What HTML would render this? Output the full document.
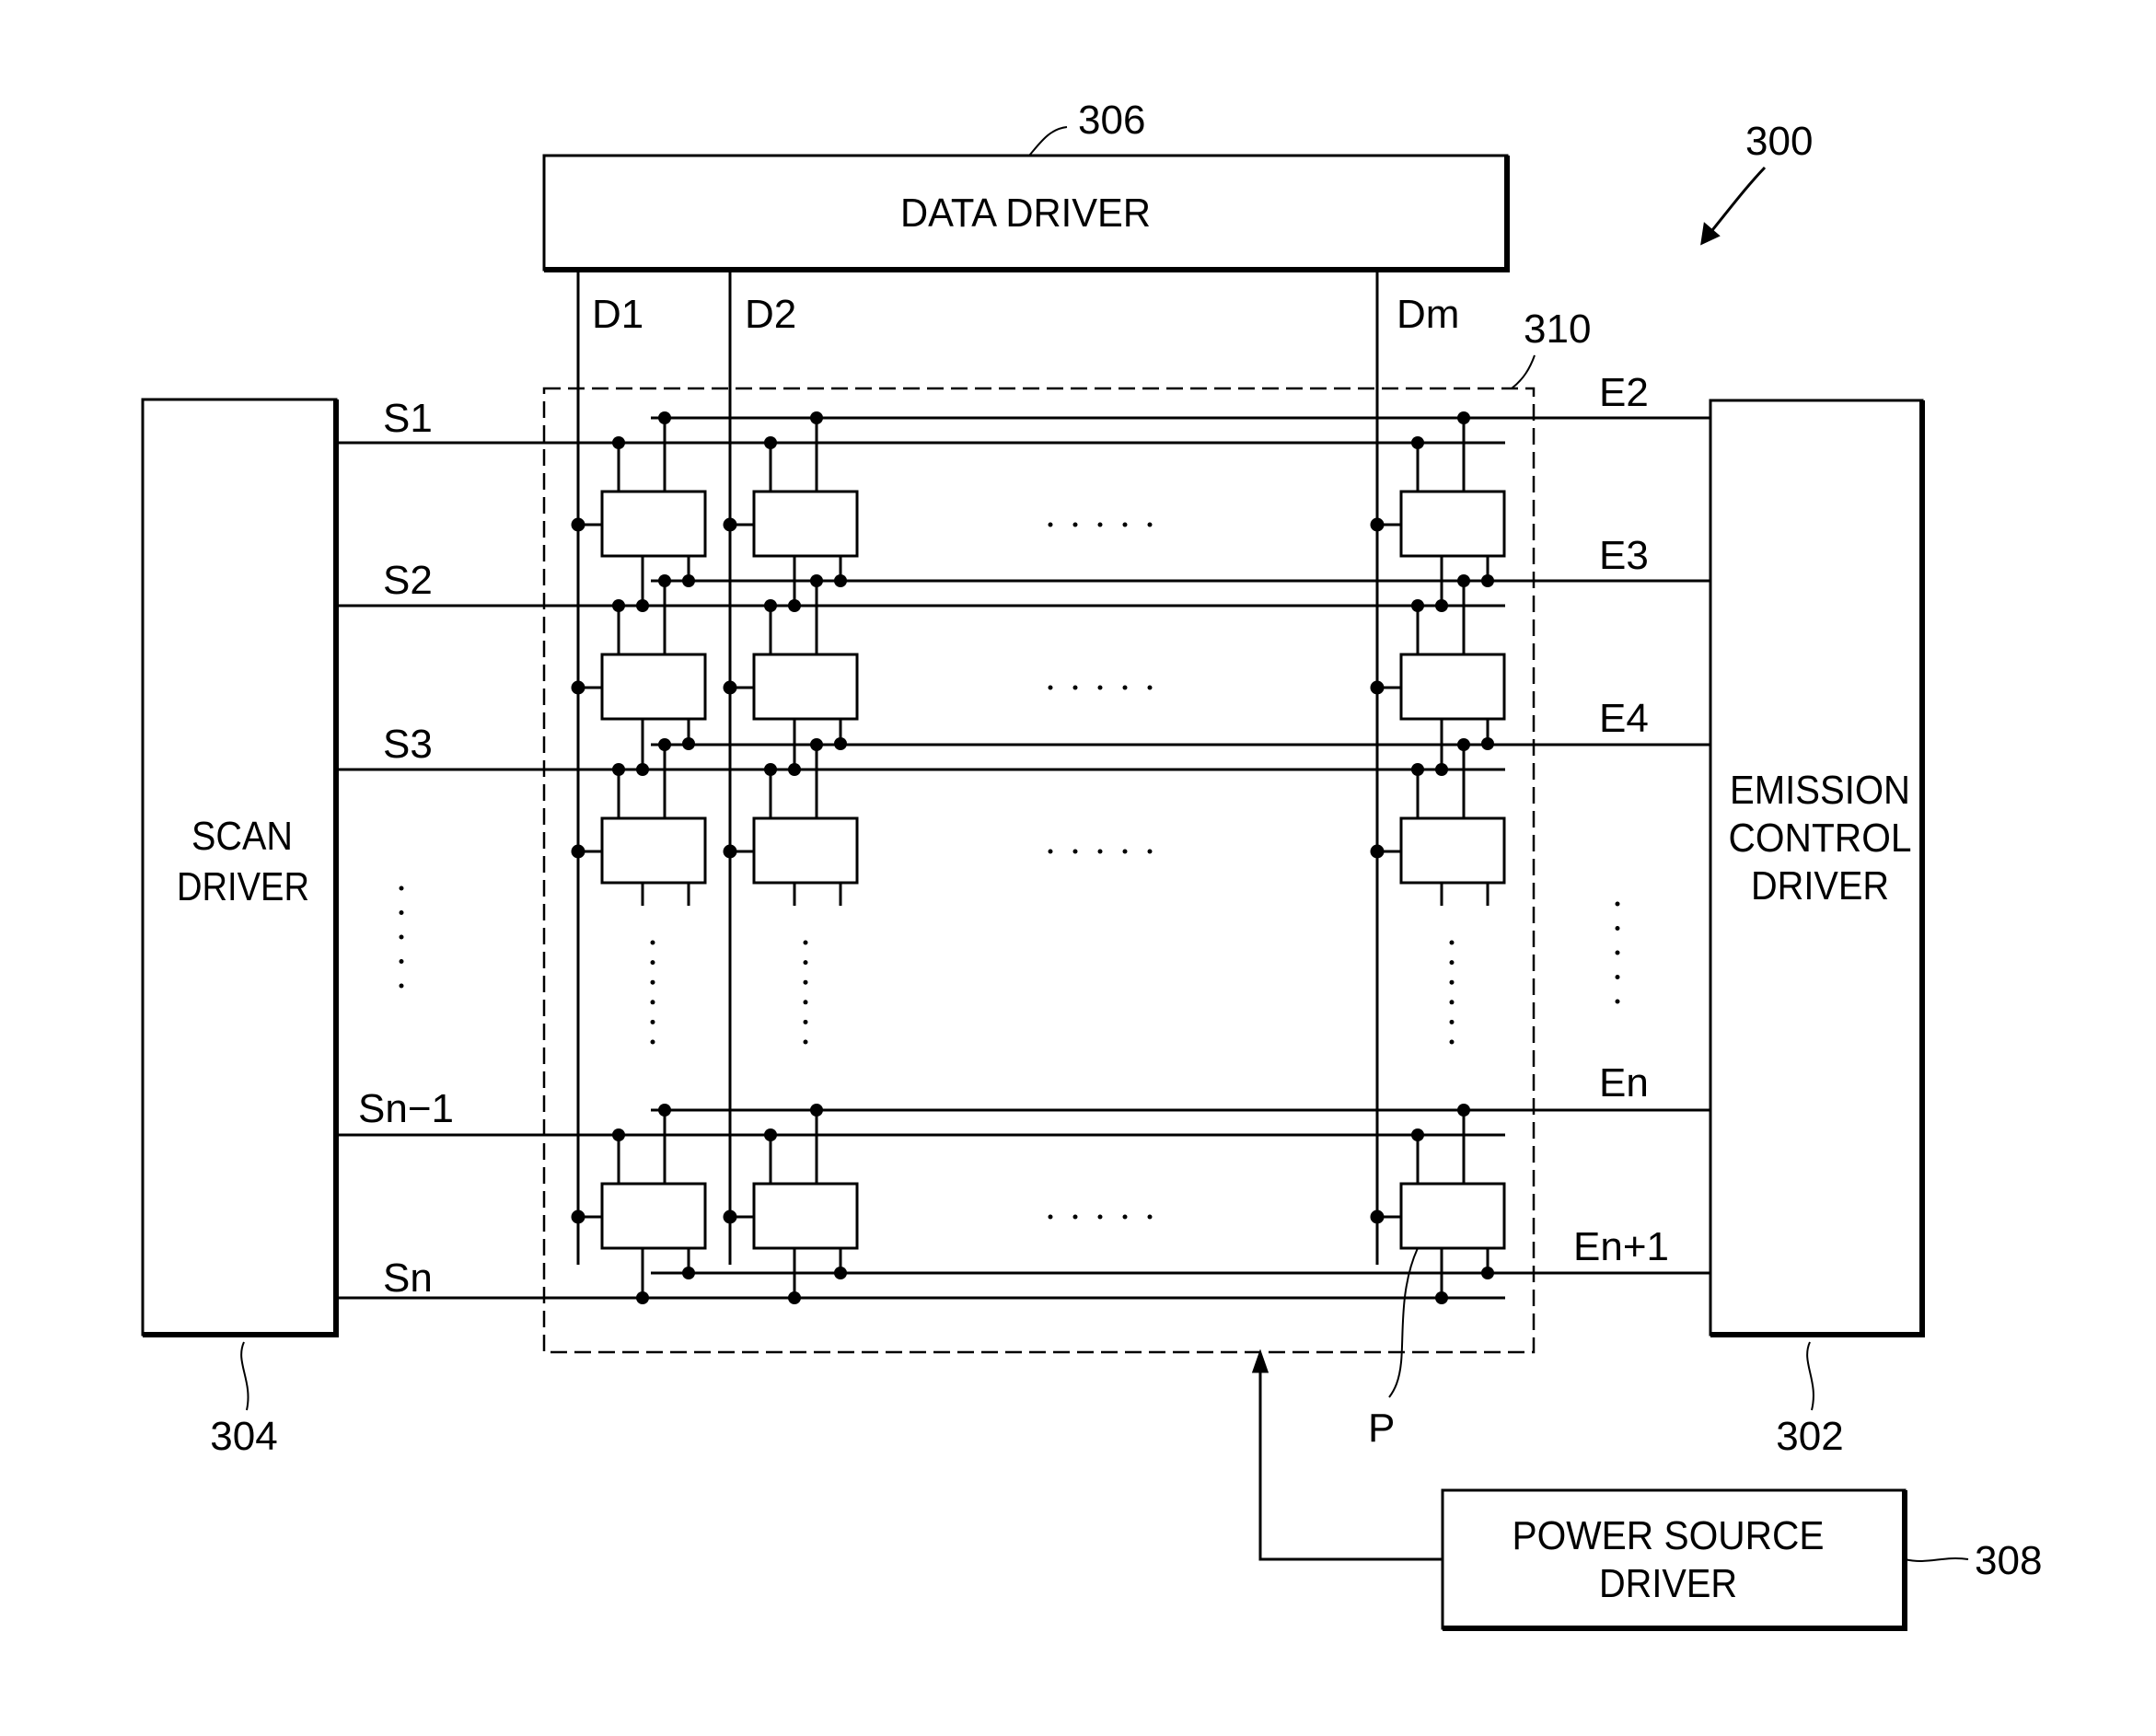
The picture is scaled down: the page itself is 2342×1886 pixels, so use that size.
<!DOCTYPE html>
<html><head><meta charset="utf-8"><style>html,body{margin:0;padding:0;background:#fff}svg{display:block}</style></head>
<body>
<svg width="2342" height="1886" viewBox="0 0 2342 1886" xmlns="http://www.w3.org/2000/svg" font-family="Liberation Sans, sans-serif" fill="none" stroke="#000">
<g stroke-width="3">
<rect x="591" y="169" width="1046" height="124"/>
<line x1="1637" y1="169" x2="1637" y2="296" stroke-width="6"/>
<line x1="591" y1="293" x2="1640" y2="293" stroke-width="6"/>
<rect x="155" y="434" width="210" height="1016"/>
<line x1="365" y1="434" x2="365" y2="1453" stroke-width="6"/>
<line x1="155" y1="1450" x2="368" y2="1450" stroke-width="6"/>
<rect x="1858" y="435" width="230" height="1015"/>
<line x1="2088" y1="435" x2="2088" y2="1453" stroke-width="6"/>
<line x1="1858" y1="1450" x2="2091" y2="1450" stroke-width="6"/>
<rect x="1567" y="1619" width="502" height="150"/>
<line x1="2069" y1="1619" x2="2069" y2="1772" stroke-width="6"/>
<line x1="1567" y1="1769" x2="2072" y2="1769" stroke-width="6"/>
<rect x="591" y="422" width="1075" height="1047" stroke-dasharray="18,8" stroke-width="2.5"/>
<line x1="628" y1="293" x2="628" y2="1374"/>
<line x1="793" y1="293" x2="793" y2="1374"/>
<line x1="1496" y1="293" x2="1496" y2="1374"/>
<line x1="365" y1="481" x2="1635" y2="481"/>
<line x1="365" y1="658" x2="1635" y2="658"/>
<line x1="365" y1="836" x2="1635" y2="836"/>
<line x1="365" y1="1233" x2="1635" y2="1233"/>
<line x1="365" y1="1410" x2="1635" y2="1410"/>
<line x1="707" y1="454" x2="1858" y2="454"/>
<line x1="707" y1="631" x2="1858" y2="631"/>
<line x1="707" y1="809" x2="1858" y2="809"/>
<line x1="707" y1="1206" x2="1858" y2="1206"/>
<line x1="707" y1="1383" x2="1858" y2="1383"/>
<polyline points="1567,1694 1369,1694 1369,1478"/>
<path d="M1369,1470 L1362,1490 L1376,1490 Z" fill="#000"/>
<path d="M1917,182 C1895,205 1875,232 1852,260"/>
<path d="M1849,264 L1852,244 L1866,256 Z" fill="#000"/>
<path d="M1159,138 C1140,140 1130,155 1118,169" stroke-width="2"/>
<path d="M1667,386 C1662,400 1655,412 1642,422" stroke-width="2"/>
<path d="M265,1458 C255,1480 275,1500 268,1532" stroke-width="2"/>
<path d="M1966,1458 C1956,1480 1976,1500 1968,1532" stroke-width="2"/>
<path d="M2069,1694 C2095,1700 2110,1690 2138,1694" stroke-width="2"/>
<path d="M1540,1356 C1520,1400 1525,1450 1522,1480 C1520,1500 1515,1510 1509,1518" stroke-width="2"/>
</g>
<g id="cells" stroke-width="3"></g>
<g fill="#000" stroke="none" font-size="44">
<text x="1114" y="246" text-anchor="middle" textLength="272" lengthAdjust="spacingAndGlyphs">DATA DRIVER</text>
<text x="263" y="923" text-anchor="middle" textLength="110" lengthAdjust="spacingAndGlyphs">SCAN</text>
<text x="264" y="978" text-anchor="middle" textLength="144" lengthAdjust="spacingAndGlyphs">DRIVER</text>
<text x="1977" y="873" text-anchor="middle" textLength="196" lengthAdjust="spacingAndGlyphs">EMISSION</text>
<text x="1977" y="925" text-anchor="middle" textLength="199" lengthAdjust="spacingAndGlyphs">CONTROL</text>
<text x="1977" y="977" text-anchor="middle" textLength="150" lengthAdjust="spacingAndGlyphs">DRIVER</text>
<text x="1812" y="1683" text-anchor="middle" textLength="339" lengthAdjust="spacingAndGlyphs">POWER SOURCE</text>
<text x="1812" y="1735" text-anchor="middle" textLength="150" lengthAdjust="spacingAndGlyphs">DRIVER</text>
<text x="1171" y="145">306</text>
<text x="1896" y="168">300</text>
<text x="1655" y="372">310</text>
<text x="643" y="356">D1</text>
<text x="809" y="356">D2</text>
<text x="1517" y="356">Dm</text>
<text x="416" y="469">S1</text>
<text x="416" y="645">S2</text>
<text x="416" y="823">S3</text>
<text x="389" y="1219">Sn−1</text>
<text x="416" y="1403">Sn</text>
<text x="1737" y="441">E2</text>
<text x="1737" y="618">E3</text>
<text x="1737" y="795">E4</text>
<text x="1737" y="1191">En</text>
<text x="1709" y="1369">En+1</text>
<text x="265" y="1575" text-anchor="middle">304</text>
<text x="1966" y="1575" text-anchor="middle">302</text>
<text x="2145" y="1710">308</text>
<text x="1486" y="1566">P</text>
</g>
<g id="dots" fill="#000" stroke="none"></g>
<script>
(function(){
var NS="http://www.w3.org/2000/svg";
var cells=document.getElementById("cells"),dots=document.getElementById("dots");
function L(x1,y1,x2,y2){var e=document.createElementNS(NS,"line");e.setAttribute("x1",x1);e.setAttribute("y1",y1);e.setAttribute("x2",x2);e.setAttribute("y2",y2);cells.appendChild(e);}
function D(x,y,r){var e=document.createElementNS(NS,"circle");e.setAttribute("cx",x);e.setAttribute("cy",y);e.setAttribute("r",r||7);dots.appendChild(e);}
var cols=[628,793,1496];
var rows=[481,658,836,1233];
var nextS={481:658,658:836,836:null,1233:1410};
rows.forEach(function(S){
  cols.forEach(function(X){
    var bt=S+53,bb=S+123,cy=S+89;
    var r=document.createElementNS(NS,"rect");
    r.setAttribute("x",X+26);r.setAttribute("y",bt);r.setAttribute("width",112);r.setAttribute("height",70);r.setAttribute("fill","#fff");cells.appendChild(r);
    L(X+44,S,X+44,bt);D(X+44,S);
    L(X+94,S-27,X+94,bt);D(X+94,S-27);
    L(X,cy,X+26,cy);D(X,cy,7.5);
    var ns=nextS[S];
    if(ns){L(X+70,bb,X+70,ns);D(X+70,ns);L(X+120,bb,X+120,S+150);D(X+120,S+150);}
    else{L(X+70,bb,X+70,984);L(X+120,bb,X+120,984);}
  });
  for(var i=0;i<5;i++)D(1141+i*27,S+89,2.5);
});
[709,875,1577].forEach(function(x){for(var i=0;i<6;i++)D(x,1024+i*21.6,2.5);});
for(var i=0;i<5;i++)D(436,965+i*26.5,2.5);
for(var i=0;i<5;i++)D(1757,982+i*26.5,2.5);
})();
</script>
</svg>
</body></html>
